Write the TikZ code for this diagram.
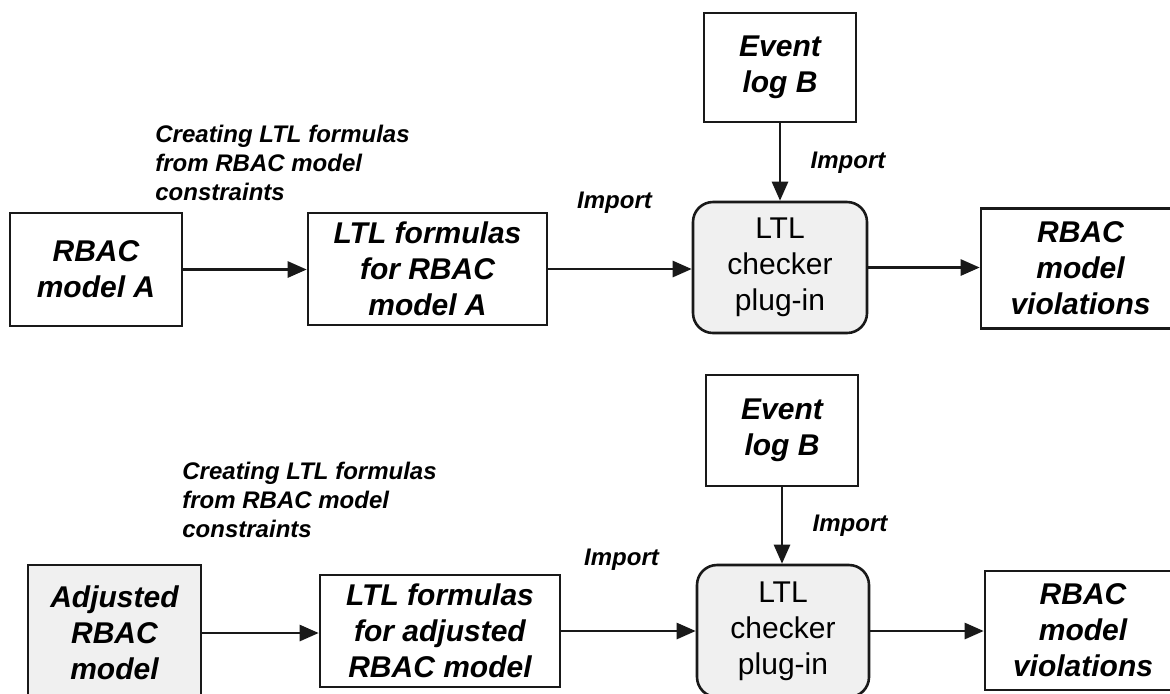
\documentclass[tikz,border=0pt]{standalone}
\usepackage{fontspec}
\setmainfont{Liberation Sans}
\usetikzlibrary{arrows.meta}
\definecolor{panelgray}{RGB}{240,240,240}
\definecolor{ink}{RGB}{25,25,25}
\begin{document}
\begin{tikzpicture}[x=0.5pt,y=-0.5pt,
  box/.style={draw=ink, line width=1.3pt, fill=white, inner sep=0pt, align=center,
    font=\fontsize{15}{18}\selectfont\bfseries\itshape},
  graybox/.style={box, fill=panelgray},
  checker/.style={draw=ink, line width=1.3pt, fill=panelgray, rounded corners=10pt,
    inner sep=0pt, align=center, font=\fontsize{15}{18}\selectfont,
    minimum width=87pt, minimum height=65.5pt},
  lbl/.style={inner sep=0pt, align=left, font=\fontsize{12}{14.5}\selectfont\bfseries\itshape},
  arr/.style={draw=ink, line width=1.3pt, -{Triangle[length=9.5pt,width=8pt]}}]
\clip (0,0) rectangle (1170,693);
\fill[white] (0,0) rectangle (1170,693);

% ---- upper pipeline: RBAC model A ----
\node[box, minimum width=86pt, minimum height=56.5pt] (rbacA) at (96,269.5) {RBAC\\model A};
\node[box, minimum width=119.5pt, minimum height=56pt] (ltlA) at (427.5,269) {LTL formulas\\for RBAC\\model A};
\node[checker] (chkA) at (780,267.5) {LTL\\checker\\plug-in};
\node[box, minimum width=76pt, minimum height=54.5pt] (evA) at (780,67.5) {Event\\log B};
\node[box, minimum width=99.5pt, minimum height=60pt] (violA) at (1080.5,268.5) {RBAC\\model\\violations};

\node[lbl, anchor=north west] (createA) at (155,125) {Creating LTL formulas\\from RBAC model\\constraints};
\node[lbl] (impA1) at (614.5,203) {Import};
\node[lbl] (impA2) at (848,163) {Import};

\draw[arr] (rbacA.east) -- (rbacA.east -| ltlA.west);
\draw[arr] (ltlA.east) -- (ltlA.east -| chkA.west);
\draw[arr] (evA.south) -- (chkA.north);
\draw[arr] (chkA.east) -- (chkA.east -| violA.west);

% ---- lower pipeline: adjusted RBAC model ----
\node[graybox, minimum width=86.5pt, minimum height=68pt] (adj) at (114.5,633) {Adjusted\\RBAC\\model};
\node[box, minimum width=120pt, minimum height=56pt] (ltlB) at (440,631) {LTL formulas\\for adjusted\\RBAC model};
\node[checker, minimum width=86pt, minimum height=66pt] (chkB) at (783,631) {LTL\\checker\\plug-in};
\node[box, minimum width=76pt, minimum height=55.5pt] (evB) at (782,430.5) {Event\\log B};
\node[box, minimum width=98pt, minimum height=59.5pt] (violB) at (1083,630.5) {RBAC\\model\\violations};

\node[lbl, anchor=north west] (createB) at (182,462) {Creating LTL formulas\\from RBAC model\\constraints};
\node[lbl] (impB1) at (621.5,560) {Import};
\node[lbl] (impB2) at (850,526) {Import};

\draw[arr] (adj.east) -- (adj.east -| ltlB.west);
\draw[arr] (ltlB.east) -- (ltlB.east -| chkB.west);
\draw[arr] (evB.south) -- (evB.south |- chkB.north);
\draw[arr] (chkB.east) -- (chkB.east -| violB.west);
\end{tikzpicture}
\end{document}
